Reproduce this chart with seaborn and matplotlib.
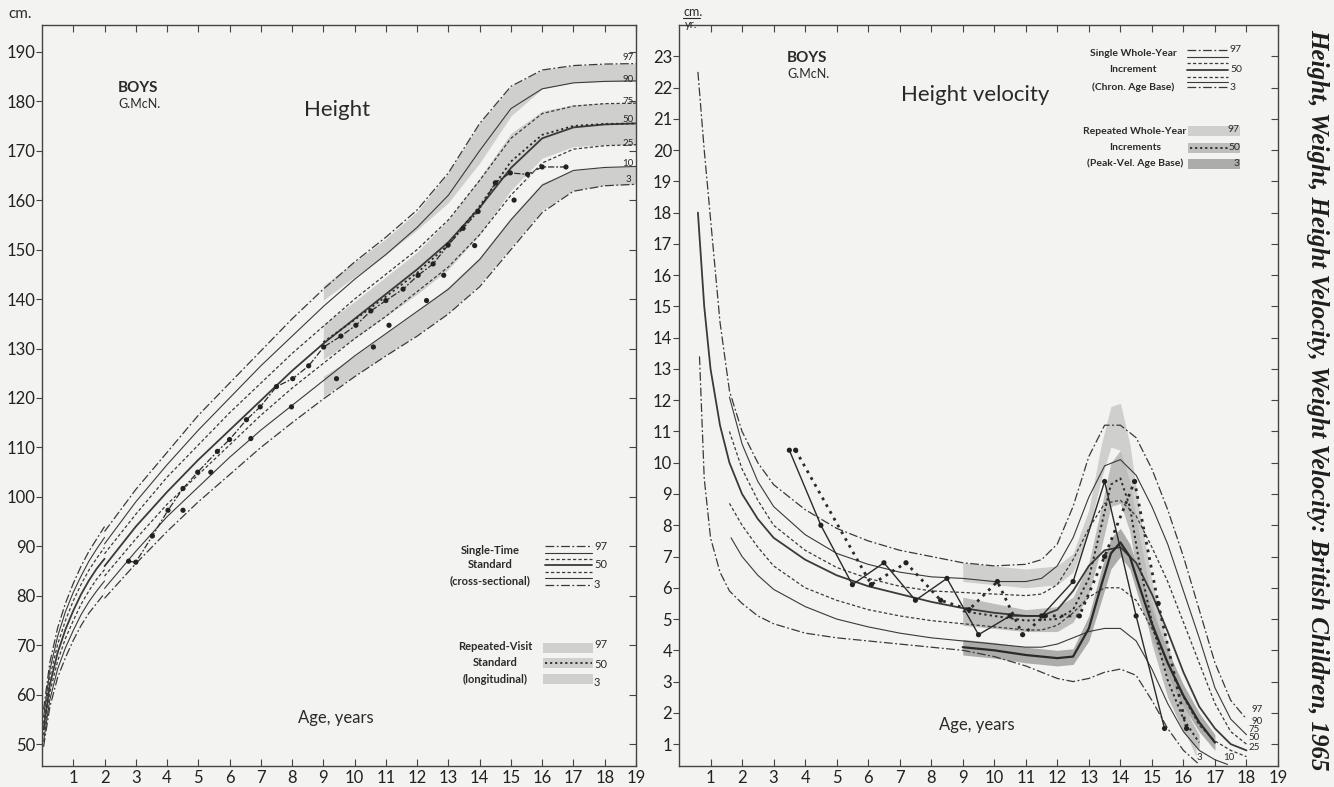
import matplotlib
matplotlib.use("Agg")
import matplotlib.pyplot as plt
import seaborn as sns
import numpy as np


sns.set_theme(style="white")
plt.rcParams['font.family'] = ['Lato', 'DejaVu Sans']

W, H = 1334, 787
PAPER = '#f3f3f1'
INK = '#3a3a3a'

# ---------------- Height (cm), cross-sectional percentiles ----------------
pct_names = ['97', '90', '75', '50', '25', '10', '3']

age_inf = [0.05, 0.25, 0.5, 0.75, 1.0, 1.25, 1.5, 1.75, 2.0]
h97_inf = [57.0, 66.5, 73.5, 78.5, 82.5, 86.0, 89.0, 91.5, 94.0]
h90_inf = [55.5, 65.0, 71.8, 76.8, 80.7, 84.0, 87.0, 89.5, 91.8]
h75_inf = [54.2, 63.5, 70.2, 75.0, 79.0, 82.3, 85.2, 87.6, 89.8]
h50_inf = [53.0, 62.0, 68.5, 73.2, 77.0, 80.3, 83.1, 85.5, 87.5]
h25_inf = [51.8, 60.5, 66.8, 71.4, 75.0, 78.3, 81.0, 83.4, 85.3]
h10_inf = [50.6, 59.0, 65.2, 69.5, 73.0, 76.2, 78.8, 81.0, 83.0]
h3_inf = [49.5, 57.5, 63.5, 67.5, 71.0, 74.0, 76.5, 78.5, 80.5]

age_std = [2, 3, 4, 5, 6, 7, 8, 9, 10, 11, 12, 13, 14, 15, 16, 17, 18, 19]
h97 = [93.0, 101.5, 109.0, 116.5, 123.0, 129.5, 136.0, 142.0, 147.5, 152.5, 158.0, 165.5, 175.5, 183.0, 186.3, 187.2, 187.5, 187.6]
h90 = [90.5, 99.0, 106.5, 113.5, 120.0, 126.5, 132.5, 138.5, 144.0, 149.0, 154.5, 161.0, 170.0, 178.5, 182.5, 183.7, 184.0, 184.1]
h75 = [88.5, 96.5, 104.0, 110.5, 117.0, 123.0, 129.0, 134.5, 140.0, 145.0, 150.0, 156.0, 164.0, 172.5, 177.5, 179.0, 179.5, 179.6]
h50 = [86.0, 94.0, 101.0, 107.5, 113.5, 119.5, 125.5, 131.0, 136.0, 141.0, 146.0, 151.5, 158.5, 166.5, 172.5, 174.7, 175.3, 175.5]
h25 = [84.0, 91.5, 98.5, 104.5, 110.5, 116.5, 122.0, 127.0, 132.0, 136.5, 141.5, 146.5, 153.0, 161.0, 167.5, 170.3, 171.0, 171.2]
h10 = [81.5, 89.0, 96.0, 102.0, 108.0, 113.5, 118.5, 123.5, 128.5, 133.0, 137.5, 142.0, 148.0, 156.0, 163.0, 166.0, 166.6, 166.8]
h3 = [79.5, 86.5, 93.0, 99.0, 104.5, 110.0, 115.0, 119.8, 124.3, 128.5, 132.5, 137.0, 142.5, 150.0, 157.5, 161.8, 162.9, 163.2]

# repeated-visit (longitudinal) bands, age 9 to 19
band_age = [9, 10, 11, 12, 13, 14, 15, 16, 17, 18, 19]
hb97_lo = [139.8, 144.5, 149.0, 154.0, 159.5, 167.5, 177.0, 182.5, 183.8, 184.0, 184.0]
hb97_hi = [142.7, 147.5, 152.2, 157.7, 165.5, 175.5, 183.0, 186.3, 187.2, 187.5, 187.6]
hb50_lo = [127.8, 132.0, 136.5, 141.0, 146.0, 153.0, 162.0, 168.5, 170.8, 171.2, 171.2]
hb50_hi = [134.9, 139.5, 144.5, 149.5, 156.0, 164.5, 173.5, 178.0, 179.3, 179.6, 179.6]
hb50_mid = [131.3, 135.8, 140.5, 145.3, 151.0, 158.8, 167.8, 173.2, 175.0, 175.4, 175.5]
hb3_lo = [120.3, 124.5, 128.7, 132.8, 137.2, 143.0, 150.5, 158.0, 162.0, 163.0, 163.2]
hb3_hi = [124.4, 128.5, 133.0, 137.5, 142.5, 148.5, 156.5, 163.5, 166.0, 166.6, 166.8]

# the boy's measurements
boy_age = [2.77, 3.0, 3.53, 4.03, 4.51, 4.98, 5.61, 6.0, 6.54, 6.98, 7.5, 8.02, 8.53, 9.01, 9.56,
           10.04, 10.52, 11.0, 11.55, 12.03, 12.51, 12.99, 13.47, 13.95, 14.5, 14.98, 15.53, 16.0, 16.76]
boy_h = [87.0, 86.8, 92.1, 97.3, 101.7, 105.0, 109.2, 111.6, 115.6, 118.2, 122.3, 123.9, 126.5, 130.3, 132.5,
         134.7, 137.6, 139.7, 142.0, 144.8, 147.1, 150.9, 154.3, 157.7, 163.5, 165.5, 165.2, 166.7, 166.7]
boy2_age = [4.51, 5.4, 6.68, 7.98, 9.42, 10.6, 11.1, 12.3, 12.85, 13.84, 15.1]
boy2_h = [97.3, 105.0, 111.8, 118.2, 123.9, 130.3, 134.7, 139.7, 144.8, 150.8, 160.0]

# ---------------- Height velocity (cm/yr) ----------------
va_early = [0.6, 0.8, 1.0, 1.3, 1.6, 2, 2.5, 3, 4, 5, 6, 7, 8, 9, 10, 11, 11.5, 12, 12.5, 13, 13.5,
            14, 14.5, 15, 15.5, 16, 16.5, 17, 17.5, 18]
v97 = [22.5, 20.0, 17.8, 14.5, 12.3, 11.0, 10.0, 9.3, 8.5, 7.9, 7.5, 7.2, 7.0, 6.8, 6.7, 6.75, 6.9,
       7.4, 8.6, 10.2, 11.2, 11.2, 10.8, 9.8, 8.5, 7.0, 5.3, 3.6, 2.4, 1.8]
v50 = [18.0, 15.0, 13.0, 11.2, 10.0, 9.0, 8.2, 7.6, 6.9, 6.4, 6.05, 5.8, 5.55, 5.35, 5.2, 5.1, 5.1,
       5.3, 5.9, 6.7, 7.2, 7.3, 6.8, 5.8, 4.6, 3.3, 2.2, 1.5, 1.0, 0.8]
va_late = [1.6, 2, 2.5, 3, 4, 5, 6, 7, 8, 9, 10, 11, 11.5, 12, 12.5, 13, 13.5, 14, 14.5, 15, 15.5,
           16, 16.5, 17, 17.5, 18]
v90 = [12.1, 10.6, 9.4, 8.6, 7.7, 7.1, 6.75, 6.5, 6.35, 6.3, 6.2, 6.2, 6.3, 6.7, 7.6, 8.9, 9.9,
       10.1, 9.6, 8.6, 7.4, 5.9, 4.4, 2.8, 1.8, 1.3]
v75 = [11.0, 9.8, 8.8, 8.0, 7.2, 6.65, 6.3, 6.05, 5.9, 5.85, 5.8, 5.75, 5.8, 6.1, 6.9, 7.9, 8.7,
       8.8, 8.3, 7.3, 6.2, 4.9, 3.6, 2.3, 1.4, 1.0]
v25 = [8.7, 8.0, 7.3, 6.7, 6.0, 5.6, 5.3, 5.1, 4.95, 4.85, 4.75, 4.65, 4.65, 4.8, 5.2, 5.7, 6.0,
       6.0, 5.6, 4.7, 3.6, 2.5, 1.6, 1.1, 0.8, 0.6]
va_10 = [1.65, 2, 2.5, 3, 4, 5, 6, 7, 8, 9, 10, 11, 11.5, 12, 12.5, 13, 13.5, 14, 14.5, 15, 15.5,
         16, 16.5, 17, 17.4]
v10 = [7.6, 7.0, 6.4, 5.95, 5.4, 5.0, 4.75, 4.55, 4.4, 4.3, 4.2, 4.1, 4.1, 4.2, 4.4, 4.6, 4.7,
       4.7, 4.3, 3.4, 2.3, 1.4, 0.8, 0.5, 0.35]
va_3 = [0.65, 0.8, 1.0, 1.3, 1.6, 2, 2.5, 3, 4, 5, 6, 7, 8, 9, 10, 11, 11.5, 12, 12.5, 13, 13.5,
        14, 14.5, 15, 15.5, 16, 16.5]
v3 = [13.4, 9.5, 7.6, 6.5, 5.9, 5.5, 5.1, 4.85, 4.55, 4.4, 4.3, 4.2, 4.1, 4.0, 3.8, 3.5, 3.3, 3.1,
      3.0, 3.1, 3.3, 3.4, 3.2, 2.4, 1.5, 0.8, 0.35]

# repeated whole-year increments, peak-velocity age base
vb97_age = [9, 10, 11, 12, 12.5, 13, 13.4, 13.7, 14.0, 14.3, 14.6, 15, 15.5, 16, 16.4]
vb97_lo = [6.2, 6.1, 6.0, 6.1, 6.5, 7.8, 9.5, 10.5, 10.4, 9.0, 7.0, 5.0, 3.0, 1.5, 0.6]
vb97_hi = [6.8, 6.7, 6.6, 6.7, 7.1, 8.5, 10.6, 11.8, 11.9, 10.6, 8.5, 6.2, 4.2, 2.5, 1.2]
vb50_age = [9, 10, 11, 12, 12.5, 13, 13.4, 13.7, 14.0, 14.3, 14.6, 15, 15.5, 16, 16.5]
vb50_lo = [4.8, 4.7, 4.6, 4.6, 4.9, 5.8, 7.3, 8.6, 8.7, 7.8, 6.0, 4.2, 2.5, 1.4, 0.8]
vb50_hi = [5.7, 5.5, 5.3, 5.4, 5.7, 6.8, 8.6, 10.0, 10.4, 9.4, 7.7, 5.6, 3.6, 2.2, 1.3]
vb50_mid = [5.25, 5.1, 4.95, 5.0, 5.3, 6.3, 8.0, 9.3, 9.5, 8.6, 6.8, 4.9, 3.05, 1.8, 1.05]
vb3_age = [9, 10, 11, 12, 12.5, 13, 13.4, 13.7, 14.0, 14.3, 14.6, 15, 15.5, 16, 16.5, 17]
vb3_lo = [3.85, 3.75, 3.6, 3.5, 3.55, 4.3, 5.6, 6.6, 7.0, 6.6, 5.6, 4.4, 3.2, 2.2, 1.4, 0.8]
vb3_hi = [4.35, 4.25, 4.1, 4.0, 4.05, 5.1, 6.6, 7.6, 7.9, 7.4, 6.5, 5.3, 4.0, 2.9, 2.0, 1.3]
vb3_mid = [4.1, 4.0, 3.85, 3.75, 3.8, 4.7, 6.1, 7.1, 7.45, 7.0, 6.05, 4.85, 3.6, 2.55, 1.7, 1.05]

# the boy's velocities
vel_age_a = [3.5, 4.5, 5.5, 6.5, 7.5, 8.5, 9.5, 10.5, 11.5, 12.5, 13.5, 14.5, 15.4]
vel_a = [10.4, 8.0, 6.1, 6.8, 5.6, 6.3, 4.5, 5.1, 5.1, 6.2, 9.4, 5.1, 1.5]
vel_age_b = [3.7, 6.1, 7.2, 8.3, 9.2, 10.1, 10.9, 11.6, 12.7, 13.5, 14.45, 15.2, 16.1]
vel_b = [10.4, 6.1, 6.8, 5.6, 5.3, 6.2, 4.5, 5.1, 5.1, 7.0, 9.4, 5.5, 1.5]

# ---------------- styles ----------------
DASHDOT = (0, (7, 2, 1.5, 2))
DASHED = (0, (2.6, 1.8))
pct_ls = {'97': DASHDOT, '90': '-', '75': DASHED, '50': '-', '25': DASHED, '10': '-', '3': DASHDOT}
pct_lw = {'97': 0.9, '90': 0.8, '75': 0.9, '50': 1.3, '25': 0.9, '10': 0.8, '3': 0.9}
BAND1 = '#cfcfcd'
BAND2 = '#bebebc'
BAND3 = '#acacaa'


def fx(px):
    return px / W


def fy(py):
    return 1 - py / H


def curve(ax, x, y, ls='-', lw=0.9, color=INK, z=3):
    sns.lineplot(x=x, y=y, ax=ax, color=color, linestyle=ls, linewidth=lw,
                 sort=False, estimator=None, legend=False, zorder=z)


def frame(ax, yticks, ylim):
    ax.set_facecolor(PAPER)
    ax.set_xlim(0, 19)
    ax.set_ylim(*ylim)
    ax.set_xlabel('')
    ax.set_ylabel('')
    for s in ax.spines.values():
        s.set_color('#444444')
        s.set_linewidth(1.0)
    ax.set_xticks(range(1, 20))
    ax.set_xticklabels([str(i) for i in range(1, 20)])
    ax.set_yticks(yticks)
    ax.set_yticklabels([str(t) for t in yticks])
    ax.tick_params(axis='x', direction='in', length=5, width=0.8, color='#444444',
                   labelsize=12, pad=3, labelcolor='#222222', bottom=True, top=True)
    ax.tick_params(axis='y', direction='out', length=4, width=0.8, color='#444444',
                   labelsize=12, pad=1, labelcolor='#222222', left=True)
    sec = ax.secondary_yaxis('right')
    sec.set_yticks(yticks)
    sec.tick_params(direction='in', length=5, width=0.8, color='#444444', labelright=False)
    sec.spines['right'].set_visible(False)


fig = plt.figure(figsize=(W / 100, H / 100), dpi=100)
fig.patch.set_facecolor(PAPER)

top_px, bot_px = 25, 766
ax1 = fig.add_axes([fx(42), fy(bot_px), fx(636 - 42), (bot_px - top_px) / H])
ax2 = fig.add_axes([fx(679), fy(bot_px), fx(1278 - 679), (bot_px - top_px) / H])

# ---------------- left panel: height ----------------
ax1.fill_between(band_age, hb97_lo, hb97_hi, color=BAND1, lw=0, zorder=1)
ax1.fill_between(band_age, hb50_lo, hb50_hi, color=BAND1, lw=0, zorder=1)
ax1.fill_between(band_age, hb3_lo, hb3_hi, color=BAND1, lw=0, zorder=1)

inf_sets = [h97_inf, h90_inf, h75_inf, h50_inf, h25_inf, h10_inf, h3_inf]
std_sets = [h97, h90, h75, h50, h25, h10, h3]
for name, yi, ys in zip(pct_names, inf_sets, std_sets):
    curve(ax1, age_inf, yi, pct_ls[name], pct_lw[name])
    curve(ax1, age_std, ys, pct_ls[name], pct_lw[name])

curve(ax1, band_age, hb50_mid, (0, (1.2, 1.6)), 1.3, color='#2a2a2a', z=4)
curve(ax1, boy_age, boy_h, (0, (5, 1.5, 1.5, 1.5)), 0.9, color='#2a2a2a', z=4)
sns.scatterplot(x=boy_age, y=boy_h, ax=ax1, color='#222222', s=14, edgecolor='none', zorder=5, legend=False)
sns.scatterplot(x=boy2_age, y=boy2_h, ax=ax1, color='#222222', s=14, edgecolor='none', zorder=5, legend=False)

frame(ax1, list(range(50, 191, 10)), (45.6, 195.4))

# ---------------- right panel: height velocity ----------------
ax2.fill_between(vb97_age, vb97_lo, vb97_hi, color=BAND1, lw=0, zorder=1)
ax2.fill_between(vb50_age, vb50_lo, vb50_hi, color=BAND2, lw=0, zorder=1)
ax2.fill_between(vb3_age, vb3_lo, vb3_hi, color=BAND3, lw=0, zorder=1)

curve(ax2, va_early, v97, pct_ls['97'], pct_lw['97'])
curve(ax2, va_late, v90, pct_ls['90'], pct_lw['90'])
curve(ax2, va_late, v75, pct_ls['75'], pct_lw['75'])
curve(ax2, va_early, v50, pct_ls['50'], pct_lw['50'])
curve(ax2, va_late, v25, pct_ls['25'], pct_lw['25'])
curve(ax2, va_10, v10, pct_ls['10'], pct_lw['10'])
curve(ax2, va_3, v3, pct_ls['3'], pct_lw['3'])

curve(ax2, vb50_age, vb50_mid, (0, (1.2, 1.6)), 1.4, color='#2a2a2a', z=4)
curve(ax2, vb3_age, vb3_mid, '-', 1.6, color='#2a2a2a', z=4)

curve(ax2, vel_age_a, vel_a, '-', 1.0, color='#2a2a2a', z=5)
curve(ax2, vel_age_b, vel_b, (0, (1, 1.8)), 2.0, color='#2a2a2a', z=5)
sns.scatterplot(x=vel_age_a, y=vel_a, ax=ax2, color='#222222', s=14, edgecolor='none', zorder=6, legend=False)
sns.scatterplot(x=vel_age_b, y=vel_b, ax=ax2, color='#222222', s=14, edgecolor='none', zorder=6, legend=False)

frame(ax2, list(range(1, 24)), (0.3, 24.0))

# ---------------- texts ----------------
T = dict(color='#2a2a2a')
fig.text(fx(8), fy(14), 'cm.', fontsize=11, ha='left', va='center', **T)
fig.text(fx(118), fy(88), 'BOYS', fontsize=11, weight='bold', ha='left', va='center', **T)
fig.text(fx(118), fy(104), 'G.McN.', fontsize=9, ha='left', va='center', **T)
fig.text(fx(337), fy(110), 'Height', fontsize=16, ha='center', va='center', **T)
fig.text(fx(336), fy(718), 'Age, years', fontsize=12, ha='center', va='center', **T)

for lab, py in zip(pct_names, [58, 79, 101, 120, 143, 163, 180]):
    fig.text(fx(628), fy(py), lab, fontsize=7, ha='center', va='center', **T)

# left legend: single-time standard
for txt, py in zip(['Single-Time', 'Standard', '(cross-sectional)'], [550, 565, 581]):
    fig.text(fx(490), fy(py), txt, fontsize=8, weight='bold', ha='center', va='center', **T)
leg_y1 = [546, 553, 559, 565, 572, 578, 585]
for name, py in zip(pct_names, leg_y1):
    fig.add_artist(plt.Line2D([fx(545), fx(592)], [fy(py), fy(py)], color=INK,
                              linestyle=pct_ls[name], linewidth=pct_lw[name]))
for lab, py in zip(['97', '50', '3'], [546, 565, 585]):
    fig.text(fx(594), fy(py), lab, fontsize=8, ha='left', va='center', **T)

for txt, py in zip(['Repeated-Visit', 'Standard', '(longitudinal)'], [647, 663, 679]):
    fig.text(fx(495), fy(py), txt, fontsize=8, weight='bold', ha='center', va='center', **T)
for py in [648, 663, 679]:
    fig.add_artist(plt.Rectangle((fx(543), fy(py + 5)), fx(50), 10 / H, color=BAND1, lw=0))
fig.add_artist(plt.Line2D([fx(545), fx(592)], [fy(663), fy(663)], color='#2a2a2a',
                          linestyle=(0, (1.2, 1.6)), linewidth=1.3))
for lab, py in zip(['97', '50', '3'], [645, 664, 682]):
    fig.text(fx(594), fy(py), lab, fontsize=8, ha='left', va='center', **T)

# right panel texts
fig.text(fx(683), fy(12), 'cm.', fontsize=9, ha='left', va='center', **T)
fig.add_artist(plt.Line2D([fx(683), fx(700)], [fy(18), fy(18)], color='#2a2a2a', linewidth=0.8))
fig.text(fx(685), fy(25), 'yr.', fontsize=8, ha='left', va='center', **T)
fig.text(fx(787), fy(58), 'BOYS', fontsize=11, weight='bold', ha='left', va='center', **T)
fig.text(fx(787), fy(74), 'G.McN.', fontsize=9, ha='left', va='center', **T)
fig.text(fx(975), fy(95), 'Height velocity', fontsize=16, ha='center', va='center', **T)
fig.text(fx(977), fy(725), 'Age, years', fontsize=12, ha='center', va='center', **T)

for txt, py in zip(['Single Whole-Year', 'Increment', '(Chron. Age Base)'], [54, 70, 87]):
    fig.text(fx(1133), fy(py), txt, fontsize=7.5, weight='bold', ha='center', va='center', **T)
leg_y2 = [50, 57, 63, 70, 77, 82, 87]
for name, py in zip(pct_names, leg_y2):
    fig.add_artist(plt.Line2D([fx(1187), fx(1228)], [fy(py), fy(py)], color=INK,
                              linestyle=pct_ls[name], linewidth=pct_lw[name]))
for lab, py in zip(['97', '50', '3'], [50, 70, 87]):
    fig.text(fx(1230), fy(py), lab, fontsize=7.5, ha='left', va='center', **T)

for txt, py in zip(['Repeated Whole-Year', 'Increments', '(Peak-Vel. Age Base)'], [131, 147, 163]):
    fig.text(fx(1135), fy(py), txt, fontsize=7.5, weight='bold', ha='center', va='center', **T)
for py, c in zip([131, 148, 164], [BAND1, BAND2, BAND3]):
    fig.add_artist(plt.Rectangle((fx(1188), fy(py + 5)), fx(52), 10 / H, color=c, lw=0))
fig.add_artist(plt.Line2D([fx(1190), fx(1230)], [fy(148), fy(148)], color='#2a2a2a',
                          linestyle=(0, (1.2, 1.6)), linewidth=1.3))
for lab, py in zip(['97', '50', '3'], [129, 147, 163]):
    fig.text(fx(1240), fy(py), lab, fontsize=7.5, ha='right', va='center', **T)

for lab, px, py in [('97', 1257, 709), ('90', 1257, 721), ('75', 1254, 729), ('50', 1254, 738),
                    ('25', 1254, 747), ('3', 1199, 757), ('10', 1229, 757)]:
    fig.text(fx(px), fy(py), lab, fontsize=7, ha='center', va='center', **T)

fig.text(fx(1318), fy(400), 'Height, Weight, Height Velocity, Weight Velocity: British Children, 1965',
         rotation=-90, fontsize=18, style='italic', weight='bold',
         family=['Liberation Serif', 'DejaVu Serif'], ha='center', va='center', color='#1e1e1e')

fig.savefig('out.png', dpi=100, facecolor=PAPER)
